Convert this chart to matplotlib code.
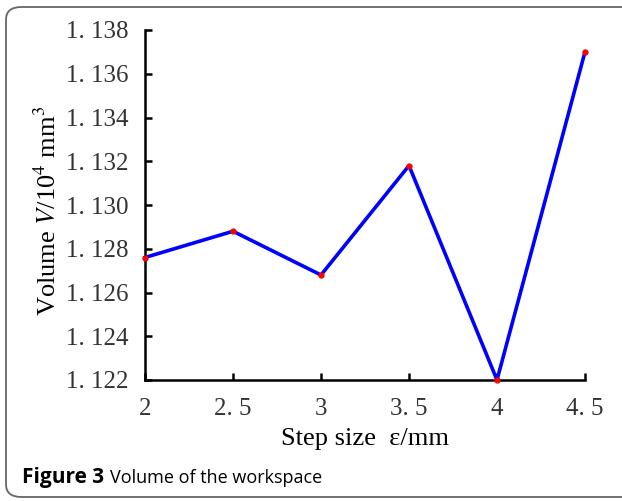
import matplotlib
matplotlib.use("Agg")
import matplotlib.pyplot as plt
from matplotlib.patches import FancyBboxPatch

step = [2, 2.5, 3, 3.5, 4, 4.5]
volume = [1.1276, 1.1288, 1.1268, 1.1318, 1.1220, 1.1370]
x_ticks = [2, 2.5, 3, 3.5, 4, 4.5]
x_labels = ["2", "2. 5", "3", "3. 5", "4", "4. 5"]
y_ticks = [1.122, 1.124, 1.126, 1.128, 1.130, 1.132, 1.134, 1.136, 1.138]
y_labels = ["1. 122", "1. 124", "1. 126", "1. 128", "1. 130", "1. 132", "1. 134", "1. 136", "1. 138"]

plt.rcParams["font.family"] = "Liberation Serif"
plt.rcParams["mathtext.fontset"] = "stix"

W, H = 622, 501
fig = plt.figure(figsize=(W / 100, H / 100), dpi=100)

# rounded frame around the figure
frame = FancyBboxPatch((6 / W, 4 / H), 640 / W, 490 / H,
                       boxstyle="round,pad=0,rounding_size=0.025",
                       transform=fig.transFigure, fill=False,
                       edgecolor="#666666", linewidth=1.3)
fig.patches.append(frame)

ax = fig.add_axes([145 / W, (H - 380) / H, 440 / W, 350 / H])
ax.plot(step, volume, color="#0000ff", linewidth=2.6, zorder=2, clip_on=False)
ax.plot(step, volume, "o", color="red", markersize=3.5, zorder=3, clip_on=False)

ax.set_xlim(2, 4.5)
ax.set_ylim(1.122, 1.138)
ax.set_xticks(x_ticks)
ax.set_xticklabels(x_labels)
ax.set_yticks(y_ticks)
ax.set_yticklabels(y_labels)

for s in ["top", "right"]:
    ax.spines[s].set_visible(False)
for s in ["left", "bottom"]:
    ax.spines[s].set_linewidth(1.8)
ax.tick_params(direction="in", length=5, width=1.8, labelsize=18, colors="black")
ax.tick_params(axis="x", pad=13)
ax.tick_params(axis="y", pad=12)
for lab in ax.get_xticklabels() + ax.get_yticklabels():
    lab.set_color("#333333")

ax.set_xlabel("Step size  \u03b5/mm", fontsize=19, labelpad=6)
ax.set_ylabel("Volume $\\mathit{V}$/10$^{4}$ mm$^{3}$", fontsize=19)
ax.yaxis.set_label_coords(-0.192, 0.483)

fig.text(22 / W, 1 - 478 / H, "Figure 3", fontfamily="Open Sans", fontweight="bold",
         fontsize=15, va="center", ha="left")
fig.text(110 / W, 1 - 478 / H, "Volume of the workspace", fontfamily="Open Sans",
         fontsize=13, va="center", ha="left")

fig.savefig("out.png", dpi=100)
